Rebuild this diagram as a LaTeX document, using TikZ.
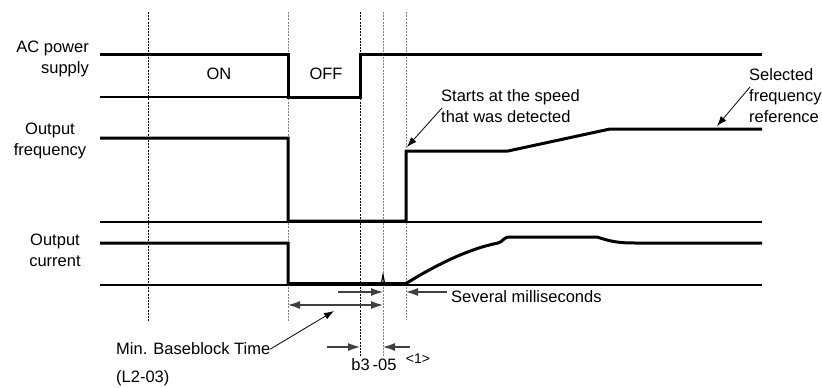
\documentclass[tikz,border=0pt]{standalone}
\usepackage{fontspec}
\setmainfont{Liberation Sans}
\usetikzlibrary{arrows.meta}

\tikzset{
  signal/.style={line width=3pt},
  base/.style={line width=1.3pt},
  timemark/.style={line width=0.9pt, dash pattern=on 2pt off 1.2pt},
  label/.style={font=\fontsize{16.5}{21}\selectfont, inner sep=0pt},
  dimline/.style={line width=1.1pt, black!75, >={Latex[length=12pt,width=8pt]}},
  callout/.style={line width=0.8pt, ->},
}

\begin{document}
\begin{tikzpicture}[x=1pt, y=-1pt, >={Latex[length=10pt,width=7pt]}]
  \useasboundingbox (0,0) rectangle (822,388);

  % time marks
  \coordinate (t0) at (148,12);
  \coordinate (toff) at (288,12);
  \coordinate (ton) at (360,12);
  \coordinate (tbb) at (383,12);
  \coordinate (tsr) at (406,12);

  \draw[timemark] (t0) -- ++(0,310);
  \draw[timemark, gray] (toff) -- ++(0,310);
  \draw[timemark] (ton) -- ++(0,345);
  \draw[timemark, gray] (tbb) -- ++(0,345);
  \draw[timemark, gray] (tsr) -- ++(0,308);

  % signal names
  \node[label, align=right, anchor=east] (acl) at (89,59) {AC power\\supply};
  \node[label, align=center] (frl) at (50,141) {Output\\frequency};
  \node[label, align=center] (cul) at (55,250) {Output\\current};

  % zero lines
  \draw[base] (100,97) -- (288,97);
  \draw[base] (100,222) -- (762,222);
  \draw[base] (100,285) -- (762,285);

  % AC power supply
  \draw[signal] (100,54) -- (288,54) -- (288,97) -- (360,97) -- (360,54) -- (762,54);
  % output frequency
  \draw[signal] (100,138) -- (288,138) -- (288,221) -- (406,221) -- (406,151)
                -- (508,151) -- (610,129) -- (762,129);
  % output current
  \draw[signal] (100,243) -- (288,243) -- (288,283.5) -- (406,283.5)
                .. controls (436,265) and (468,249) .. (498,243)
                .. controls (503,242) and (503,237) .. (510,237) -- (597,237)
                .. controls (612,242) and (620,243) .. (635,243) -- (762,243);
  \draw[line width=1.2pt] (381.5,283) -- (383,275) -- (384.5,283);

  % texts
  \node[label] (on) at (219,74) {ON};
  \node[label] (off) at (326,74) {OFF};
  \node[label, align=left, anchor=west] (sts) at (441,106) {Starts at the speed\\that was detected};
  \node[label, align=left, anchor=west] (sel) at (749,96) {Selected\\frequency\\reference};
  \node[label, anchor=west] (sev) at (451,297) {Several milliseconds};
  \node[label, anchor=west] (mbt) at (116,349) {Min. Baseblock Time};
  \node[label, anchor=west] (mbp) at (116,378) {(L2-03)};
  \node[label] (b35) at (374,365) {b3\kern3pt-05};
  \node[label, font=\fontsize{14}{16}\selectfont] (n1) at (418,359) {<1>};

  % callouts
  \coordinate (stsTip) at (407,147);
  \coordinate (selTip) at (717,126);
  \coordinate (mbtTip) at (334,311);
  \draw[callout] ([shift={(1,2)}]sts.west) -- (stsTip);
  \draw[callout] ([shift={(1,-9)}]sel.west) -- (selTip);
  \draw[callout] (mbt.east) -- (mbtTip);

  % time spans
  \coordinate (smA) at (338,292);
  \coordinate (smB) at (383,292);
  \coordinate (smC) at (406,292);
  \coordinate (smD) at (447,292);
  \coordinate (bbL) at (288,305);
  \coordinate (bbR) at (383,305);
  \coordinate (bA) at (327,347);
  \coordinate (bB) at (360,347);
  \coordinate (bC) at (383,347);
  \coordinate (bD) at (410,347);

  \draw[dimline, ->] (smA) -- (smB);
  \draw[dimline, ->] (smD) -- (smC);
  \draw[dimline, <->] (bbL) -- (bbR);
  \draw[dimline, ->] (bA) -- (bB);
  \draw[dimline, ->] (bD) -- (bC);
\end{tikzpicture}
\end{document}
